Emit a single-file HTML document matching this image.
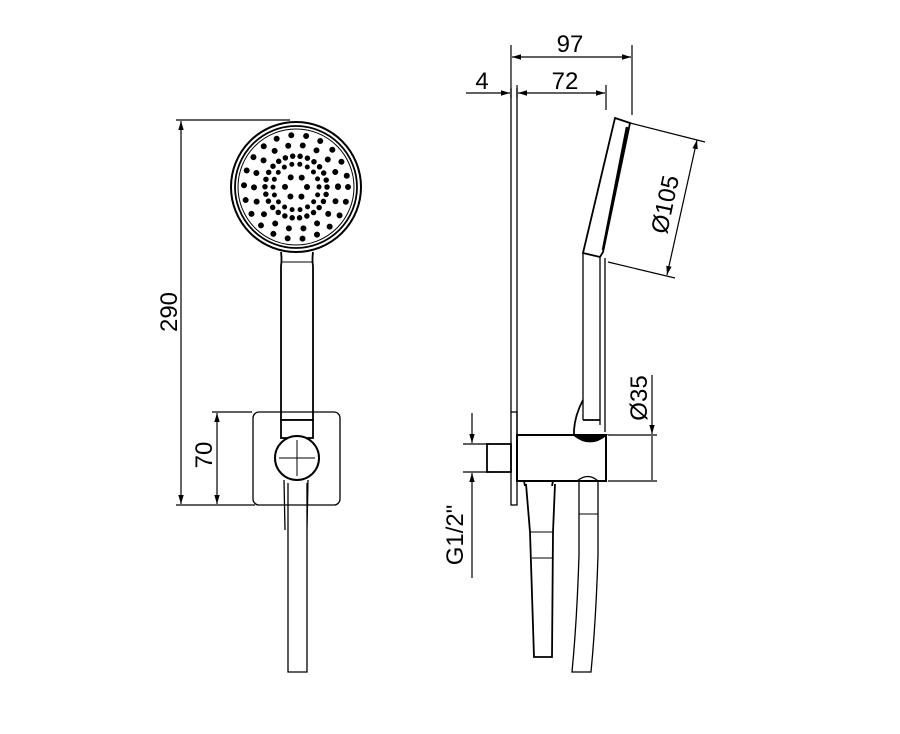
<!DOCTYPE html>
<html><head><style>body{margin:0;background:#fff}svg{display:block}text{font-family:"Liberation Sans",sans-serif;font-size:24px;fill:#000}</style></head>
<body>
<svg width="900" height="734" viewBox="0 0 900 734" xmlns="http://www.w3.org/2000/svg">
<defs><marker id="a" viewBox="0 0 10 10" refX="10" refY="5" markerWidth="9" markerHeight="9" orient="auto-start-reverse" markerUnits="userSpaceOnUse"><path d="M0,2 L10,5 L0,8z" fill="#000"/></marker></defs>
<g stroke="#000" fill="none" stroke-width="1.2">
<line x1="176" y1="120" x2="290" y2="120"/>
<line x1="176" y1="505" x2="255" y2="505"/>
<line x1="181" y1="121" x2="181" y2="504" marker-start="url(#a)" marker-end="url(#a)"/>
<line x1="212" y1="412" x2="252" y2="412"/>
<line x1="217" y1="413" x2="217" y2="504" marker-start="url(#a)" marker-end="url(#a)"/>
</g>
<text transform="translate(177,312) rotate(-90)" text-anchor="middle">290</text>
<text transform="translate(212,455) rotate(-90)" text-anchor="middle">70</text>
<g stroke="#000" fill="none" stroke-width="1.8">
<rect x="253" y="412" width="87" height="93" rx="6" stroke-width="1.3"/>
<circle cx="296" cy="187" r="65" stroke-width="2"/>
<circle cx="296" cy="187" r="61"/>
<circle cx="296" cy="187" r="58" stroke-width="1"/>
<path d="M281,252 Q282,260 281,266 L281,420 L313,420 L313,266 Q312,260 313,252"/>
<line x1="281" y1="262" x2="313" y2="262" stroke-width="1"/>
<rect x="281" y="420" width="32" height="18" fill="#fff"/>
<circle cx="297" cy="458" r="22" fill="#fff" stroke-width="2"/>
<line x1="297" y1="440" x2="297" y2="476" stroke-width="1"/><line x1="279" y1="458" x2="315" y2="458" stroke-width="1"/>
<path d="M284,480 L285,530 M308,480 L307,530 M288,483 L288,672 L307,672 L307,483" stroke-width="1.3"/>
</g>
<g stroke="#000" fill="none" stroke-linecap="round" stroke-width="6">
<circle cx="296" cy="187" r="52" stroke-dasharray="0 15"/>
<circle cx="296" cy="187" r="42" stroke-dasharray="0 14.6"/>
<circle cx="296" cy="187" r="31" stroke-dasharray="0 7.5" stroke-width="5.5"/>
<circle cx="296" cy="187" r="23" stroke-dasharray="0 8" stroke-width="5"/>
<circle cx="296" cy="187" r="11" stroke-dasharray="0 11.5"/>
</g>
<g stroke="#000" fill="none" stroke-width="1.2">
<line x1="511" y1="45" x2="511" y2="98"/><line x1="632" y1="45" x2="632" y2="115"/>
<line x1="512" y1="57" x2="631" y2="57" marker-start="url(#a)" marker-end="url(#a)"/>
<line x1="517" y1="85" x2="517" y2="98"/><line x1="606" y1="85" x2="606" y2="110"/>
<line x1="518" y1="93" x2="605" y2="93" marker-start="url(#a)" marker-end="url(#a)"/>
<line x1="466" y1="93" x2="510" y2="93" marker-end="url(#a)"/>
<line x1="630" y1="123" x2="705" y2="142"/><line x1="608" y1="262" x2="675" y2="278"/>
<line x1="697" y1="140" x2="667" y2="275" marker-start="url(#a)" marker-end="url(#a)"/>
<line x1="608" y1="435" x2="657" y2="435"/><line x1="608" y1="481" x2="657" y2="481"/>
<line x1="652" y1="375" x2="652" y2="434" marker-end="url(#a)"/>
<line x1="652" y1="436" x2="652" y2="480"/>
<line x1="463" y1="444" x2="490" y2="444"/><line x1="463" y1="472" x2="490" y2="472"/>
<line x1="472" y1="413" x2="472" y2="443" marker-end="url(#a)"/>
<line x1="472" y1="578" x2="472" y2="473" marker-end="url(#a)"/>
</g>
<text x="570" y="52" text-anchor="middle">97</text>
<text x="565" y="89" text-anchor="middle">72</text>
<text x="482" y="89" text-anchor="middle">4</text>
<text transform="translate(673,206) rotate(-78)" text-anchor="middle">Ø105</text>
<text transform="translate(647,398) rotate(-90)" text-anchor="middle">Ø35</text>
<text transform="translate(463,535) rotate(-90)" text-anchor="middle">G1/2"</text>
<g stroke="#000" fill="none" stroke-width="1.8">
<path d="M511,88 L511,412 M517,88 L517,435" stroke-width="1.3"/>
<rect x="511" y="412" width="6" height="93" stroke-width="1.3"/>
<path d="M615,118 L630,123 L603,252 L600,257 L583,253 Z"/>
<line x1="627" y1="127" x2="603" y2="250" stroke-width="2.5"/>
<line x1="583" y1="253" x2="600" y2="257" stroke-width="1"/>
<path d="M583,253 L583,420 M600,257 L600,425 M605,258 L605,432" stroke-width="1.3"/>
<path d="M583,400 Q575,415 574,430 L574,435 M583,420 L600,420"/>
<path d="M574,435 Q590,448 606,435 Z" fill="#000"/>
<rect x="517" y="435" width="89" height="46" stroke-width="2"/>
<rect x="487" y="444" width="24" height="28"/>
<path d="M524,481 L525,486 M553,481 L552,486 M526,484 L530,532 L534,657 L552,657 L553,532 L555,484"/>
<line x1="530" y1="532" x2="553" y2="532" stroke-width="1"/><line x1="532" y1="558" x2="553" y2="558" stroke-width="1"/>
<path d="M577,481 Q588,472 598,481 M579,482 L579,555 Q577,620 572,672 L591,672 Q596,620 598,555 L598,482" stroke-width="1.3"/>
<line x1="579" y1="514" x2="598" y2="514" stroke-width="1"/>
</g>
</svg>
</body></html>
